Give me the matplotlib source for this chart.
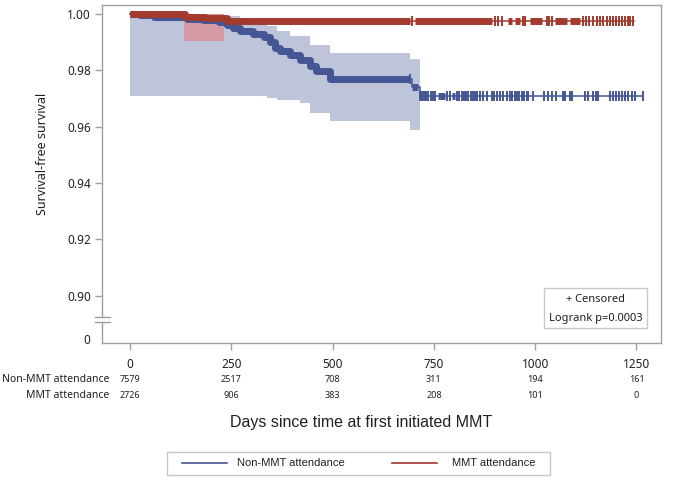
import numpy as np
import matplotlib
matplotlib.use("Agg")
import matplotlib.pyplot as plt
from matplotlib.patches import Rectangle
from matplotlib.lines import Line2D

# ---------------- data ----------------
x_ticks = [0, 250, 500, 750, 1000, 1250]
y_ticks = [0.90, 0.92, 0.94, 0.96, 0.98, 1.00]
y_tick_labels = ["0.90", "0.92", "0.94", "0.96", "0.98", "1.00"]
group_names = ["Non-MMT attendance", "MMT attendance"]
at_risk_non = [7579, 2517, 708, 311, 194, 161]
at_risk_mmt = [2726, 906, 383, 208, 101, 0]

# Kaplan-Meier step curves (step starts at day, value held until next)
non_days = [0, 25, 60, 110, 141, 180, 220, 240, 254, 271, 304, 330, 345, 358,
            370, 395, 420, 444, 458, 494, 696, 716]
non_surv = [1.0000, 0.9995, 0.9991, 0.9988, 0.9984, 0.9979, 0.9972, 0.9962,
            0.9950, 0.9940, 0.9930, 0.9918, 0.9900, 0.9880, 0.9868, 0.9855,
            0.9838, 0.9815, 0.9797, 0.9770, 0.9740, 0.9710]
non_end = 1266

mmt_days = [0, 136, 185, 239]
mmt_surv = [1.0000, 0.9990, 0.9985, 0.9975]
mmt_end = 1244

# confidence bands
non_ci_days = [0, 239, 271, 304, 338, 363, 395, 420, 444, 494, 691, 716]
non_ci_upper = [0.9998, 0.9993, 0.9986, 0.9975, 0.9957, 0.9940, 0.9922, 0.9922,
                0.9890, 0.9861, 0.9840, 0.9840]
non_ci_lower = [0.9709, 0.9709, 0.9709, 0.9709, 0.9700, 0.9695, 0.9695, 0.9685,
                0.9648, 0.9621, 0.9588, 0.9588]
mmt_ci_days = [133, 232]
mmt_ci_upper = [1.0000, 1.0000]
mmt_ci_lower = [0.9905, 0.9905]

# densely censored stretches (appear as solid bars) and single censor marks
non_dense = [(0, 690), (697, 711), (760, 777), (795, 803)]
non_censor = [691, 716, 720, 726, 730, 735, 742, 747, 752, 782, 790, 807, 812,
              819, 824, 829, 834, 841, 846, 851, 856, 864, 871, 880, 893, 898,
              905, 913, 921, 930, 938, 944, 950, 955, 960, 967, 972, 979, 982,
              995, 1022, 1032, 1041, 1051, 1069, 1074, 1086, 1091, 1123, 1130,
              1143, 1150, 1155, 1184, 1192, 1199, 1207, 1214, 1221, 1229, 1239,
              1246, 1266]
mmt_dense = [(0, 690), (703, 893), (933, 943), (950, 962), (987, 1017),
             (1049, 1078), (1086, 1111)]
mmt_censor = [697, 901, 908, 918, 970, 975, 1029, 1035, 1041, 1118, 1125, 1133,
              1143, 1153, 1160, 1168, 1177, 1185, 1192, 1199, 1207, 1214, 1221,
              1228, 1234, 1241]

censored_text = "+ Censored"
logrank_text = "Logrank p=0.0003"
x_label = "Days since time at first initiated MMT"
y_label = "Survival-free survival"

# ---------------- style ----------------
BLUE = "#445694"
RED = "#A23A2E"
BAND = "#bec4da"
PINK = "#d49ba6"
GREY = "#a0a0a0"
W, H = 682, 482

fig = plt.figure(figsize=(W / 100, H / 100), dpi=100)


def fx(x):
    return x / W


def fy(y):
    return 1 - y / H


ax = fig.add_axes([fx(102), fy(343), fx(661) - fx(102), fy(5) - fy(343)])
ax.set_xlim(-69.1, 1310.5)
ax.set_ylim(0.88313, 1.0032)


def step_xy(days, surv, a, b):
    days = np.asarray(days, float)
    surv = np.asarray(surv, float)
    xs, ys = [a], [surv[np.searchsorted(days, a, side="right") - 1]]
    for d, s in zip(days, surv):
        if a < d < b:
            xs += [d, d]
            ys += [ys[-1], s]
    xs.append(b)
    ys.append(ys[-1])
    return xs, ys


def value_at(days, surv, t):
    i = np.searchsorted(np.asarray(days, float), t, side="right") - 1
    return surv[i]


# bands
ax.fill_between(non_ci_days, non_ci_lower, non_ci_upper, step="post",
                color=BAND, lw=0, zorder=1)
ax.fill_between(mmt_ci_days, mmt_ci_lower, mmt_ci_upper, step="post",
                color=PINK, lw=0, zorder=1.5)

THICK = 5.0
for days, surv, end, dense, cens, col in [
        (non_days, non_surv, non_end, non_dense, non_censor, BLUE),
        (mmt_days, mmt_surv, mmt_end, mmt_dense, mmt_censor, RED)]:
    xs, ys = step_xy(days, surv, 0, end)
    ax.plot(xs, ys, color=col, lw=1.1, zorder=3)
    for a, b in dense:
        xs, ys = step_xy(days, surv, a, b)
        ax.plot(xs, ys, color=col, lw=THICK, solid_capstyle="butt", zorder=3)
    cy = [value_at(days, surv, t) for t in cens]
    ax.plot(cens, cy, ls="none", marker="|", ms=7, mew=1.4, color=col, zorder=3)

# axes styling
for s in ["top", "right", "bottom"]:
    ax.spines[s].set_color(GREY)
    ax.spines[s].set_linewidth(1)
ax.spines["left"].set_visible(False)
# left spine with axis break
ax.plot([-69.1, -69.1], [0.8924, 1.0032], color=GREY, lw=1, clip_on=False, zorder=5)
ax.plot([-69.1, -69.1], [0.88313, 0.8906], color=GREY, lw=1, clip_on=False, zorder=5)
for yb in (0.8924, 0.8906):
    ax.plot([-86, -49], [yb, yb], color=GREY, lw=1, clip_on=False, zorder=5)

ax.set_xticks(x_ticks)
ax.set_xticklabels([str(v) for v in x_ticks])
ax.set_yticks(y_ticks)
ax.set_yticklabels(y_tick_labels)
ax.tick_params(axis="both", direction="out", length=5, width=1, color=GREY,
               labelsize=8.5, labelcolor="#202020")
ax.tick_params(axis="x", pad=6)
ax.tick_params(axis="y", pad=3)
for lab in ax.get_xticklabels() + ax.get_yticklabels():
    lab.set_family("Noto Sans")
fig.text(fx(90), fy(341), "0", ha="right", va="center",
         fontsize=8.5, family="Noto Sans", color="#202020")

# y label
fig.text(fx(43), fy(154), y_label, rotation=90, ha="center", va="center",
         fontsize=9, family="Noto Sans", color="#202020")

# at-risk table
for row_y, name, vals in [(379, group_names[0], at_risk_non),
                          (396, group_names[1], at_risk_mmt)]:
    fig.text(fx(109), fy(row_y), name, ha="right", va="center", fontsize=7.5,
             family="Noto Sans", color="#202020")
    for xv, v in zip(x_ticks, vals):
        disp = ax.transData.transform((xv, 1.0))
        fig.text(disp[0] / fig.bbox.width, fy(row_y), str(v), ha="center",
                 va="center", fontsize=6.5, family="Noto Sans", color="#202020")

# x label
fig.text(fx(361), fy(422), x_label, ha="center", va="center", fontsize=11.5,
         family="Liberation Sans", color="#202020")

# censored / logrank box
fig.patches.append(Rectangle((fx(544), fy(328)), fx(647) - fx(544),
                             fy(288) - fy(328), transform=fig.transFigure,
                             fill=False, edgecolor="#c8c8c8", lw=1))
fig.text(fx(596), fy(299), censored_text, ha="center", va="center",
         fontsize=8, family="Noto Sans", color="#202020")
fig.text(fx(596), fy(319), logrank_text, ha="center", va="center",
         fontsize=8, family="Noto Sans", color="#202020")

# legend
fig.patches.append(Rectangle((fx(167), fy(475)), fx(550) - fx(167),
                             fy(452) - fy(475), transform=fig.transFigure,
                             fill=False, edgecolor="#c8c8c8", lw=1))
for x0, x1, tx, col, name in [(182, 227, 237, BLUE, group_names[0]),
                              (392, 437, 452, RED, group_names[1])]:
    fig.add_artist(Line2D([fx(x0), fx(x1)], [fy(463), fy(463)], color=col,
                          lw=1.2, transform=fig.transFigure))
    fig.text(fx(tx), fy(463), name, ha="left", va="center", fontsize=8,
             family="Liberation Sans", color="#202020")

fig.savefig("out.png", dpi=100)
